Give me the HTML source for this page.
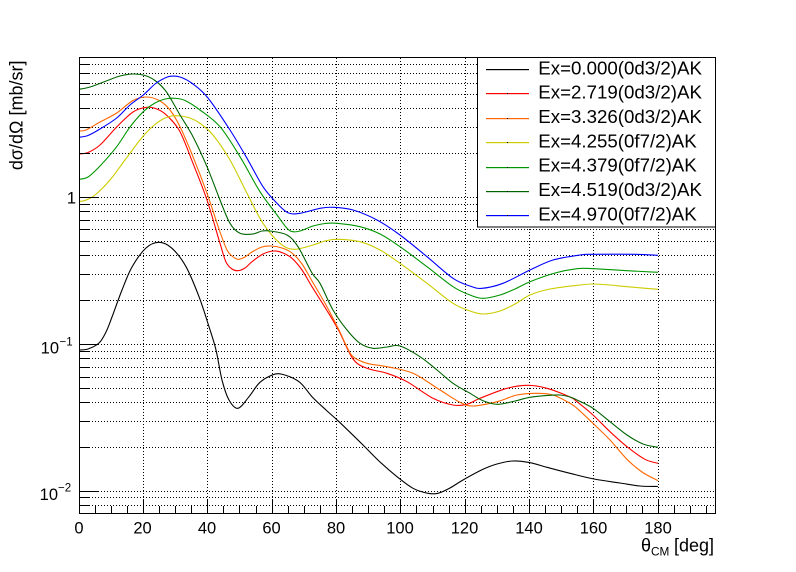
<!DOCTYPE html>
<html>
<head>
<meta charset="utf-8">
<style>
  html, body { margin: 0; padding: 0; background: #ffffff; }
  body { width: 796px; height: 572px; overflow: hidden; }
  svg { display: block; }
  text { font-family: "Liberation Sans", Arial, sans-serif; fill: #000; }
</style>
</head>
<body>
<svg id="c" width="796" height="572" viewBox="0 0 796 572" xmlns="http://www.w3.org/2000/svg">
  <rect x="0" y="0" width="796" height="572" fill="#ffffff"/>

  <!-- grid -->
  <g stroke="#000" stroke-width="1" stroke-dasharray="1,2" shape-rendering="crispEdges" fill="none">
    <path d="M143.5,58 V514 M207.5,58 V514 M272.5,58 V514 M336.5,58 V514 M400.5,58 V514 M465.5,58 V514 M529.5,58 V514 M593.5,58 V514 M658.5,58 V514"/>
    <path d="M80,64.5 H716 M80,73.5 H716 M80,83.5 H716 M80,94.5 H716 M80,108.5 H716 M80,127.5 H716 M80,153.5 H716 M80,197.5 H716 M80,204.5 H716 M80,211.5 H716 M80,220.5 H716 M80,229.5 H716 M80,241.5 H716 M80,255.5 H716 M80,274.5 H716 M80,300.5 H716 M80,344.5 H716 M80,351.5 H716 M80,358.5 H716 M80,367.5 H716 M80,377.5 H716 M80,388.5 H716 M80,402.5 H716 M80,421.5 H716 M80,447.5 H716 M80,491.5 H716 M80,497.5 H716 M80,505.5 H716"/>
  </g>

  <!-- series -->
  <g fill="none" stroke-width="1.1" stroke-linejoin="round">
    <polyline class="s" stroke="#000000" points="79,350 88,349 99,343 106,332 112,317 122,290 132,267 146,248 159,242.3 172,248.3 186,266.7 199,296.7 209,326.7 216,350 222,380 229,400 238,408.3 249,396.7 259,383.3 270,376 281,374 299,381.7 312,396.7 326,410 339,421.7 363,445 380,462 397,476.7 413,488.3 428,493.3 438,493.3 450,488 463,480 483,469.3 497,464 513,461 530,462.7 547,467.3 570,473.3 594,479 620,483 640,486 658,486.5"/>
    <polyline class="s" stroke="#ff0000" points="79,154 88,152.5 100,145 116.7,127 133,112 146.7,107.3 158,109.5 168,116.5 180,131.7 193,163.3 207,200 220,243.3 226,262 232,269 238,270.7 245,268 252,261.7 263,254 274,251 283,253 292,258.3 302,270 312,286.7 326,309 339,331 353,359 367,368.3 387,373.3 407,381.7 433,398.3 453,405 467,404.3 480,398.3 507,388.3 528,385.3 547,388.3 570,397 577,401.7 593,415 610,431.7 627,446.7 645,459.3 658,463.3"/>
    <polyline class="s" stroke="#ff6600" points="79,131 86,130 100,122 116.7,113 133,100.5 146.7,97 160,101 170,110 180,126.7 193,156.7 207,193.3 220,232 227,250 232,256 238,259.3 245,257 252,252 262,247 271,246 282,248 292,253 302,264 312,281 326,305 339,330 346,345 353,356.7 367,363.3 387,366.7 413,373.3 440,390 460,402.3 473,406 497,401.7 517,395 537,393.3 553,395 570,403.3 577,408.3 593,423.3 610,440 627,459.3 642,472 658,480.7"/>
    <polyline class="s" stroke="#cccc00" points="79,201.3 85,200.5 95,195 110,180 125,160 140,140 152,127 163,119 172,116 180,116 190,118 200,123.3 213,135 230,160 247,193.3 263,223.3 280,243.3 294,249.3 313,245 325,241 337,239.3 360,241.7 380,250 400,263.3 427,283.3 453,303.3 470,311 483,314 500,311 515,304 530,295 550,289 580,285 593,284 610,285 627,286.7 658,289.3"/>
    <polyline class="s" stroke="#009600" points="79,179.3 88,177 100,166 116.7,146.7 130,127 143.3,111.7 155,103 165,99 175,98.3 185,100.5 200,110 220,126.7 240,156.7 260,191.7 277,215 287,228.3 293,231.7 300,231 313,226 325,223.5 337,223.3 360,226.7 380,234 400,246.7 427,266.7 453,286.7 470,295 483,298.3 500,295 515,289 530,281.7 555,273 577,268.7 593,268.7 627,270.7 658,272.3"/>
    <polyline class="s" stroke="#006400" points="79,89.3 90,87 105,81.5 120,76 133.3,74 145,75.5 155,80.5 165,90 172,101 180,115 193,136.7 207,166.7 220,200 230,223.3 240,233.3 253,234 262,231 270,231 287,235 298,246.7 312,273 320,283.3 333,310 347,330 360,343.3 373,348.3 387,347 400,346 420,356.7 437,370 453,383.3 470,393.3 483,400.7 498,404.3 515,401 530,397.3 550,395.3 560,395 570,397 577,400 593,408.3 610,421.7 627,435 643,444 658,447.3"/>
    <polyline class="s" stroke="#0000ff" points="79,137.3 88,135.5 100,129 116.7,118 130,105 143.3,95 155,84 163,79 170,76.3 180,77 193,84 208,98 230,130 247,158.3 263,186.7 277,203.3 288,212.7 300,213.3 320,208.3 333,207.3 353,210 377,220 400,235 427,256.7 453,278.3 470,286 482,288.3 503,283.3 530,270 553,260 580,255 593,254.3 635,254.3 658,255.3"/>
  </g>

  <!-- frame and ticks -->
  <g stroke="#000" stroke-width="1" fill="none" shape-rendering="crispEdges">
    <rect x="79.5" y="57.5" width="636" height="456"/>
    <path d="M80,197.5 H99 M80,344.5 H99 M80,491.5 H99"/>
    <path d="M80,64.5 H90 M80,73.5 H90 M80,83.5 H90 M80,94.5 H90 M80,108.5 H90 M80,127.5 H90 M80,153.5 H90 M80,204.5 H90 M80,211.5 H90 M80,220.5 H90 M80,229.5 H90 M80,241.5 H90 M80,255.5 H90 M80,274.5 H90 M80,300.5 H90 M80,351.5 H90 M80,358.5 H90 M80,367.5 H90 M80,377.5 H90 M80,388.5 H90 M80,402.5 H90 M80,421.5 H90 M80,447.5 H90 M80,497.5 H90 M80,505.5 H90"/>
    <path d="M143.5,513 V500 M207.5,513 V500 M272.5,513 V500 M336.5,513 V500 M400.5,513 V500 M465.5,513 V500 M529.5,513 V500 M593.5,513 V500 M658.5,513 V500"/>
    <path d="M95.5,513 V506 M111.5,513 V506 M127.5,513 V506 M159.5,513 V506 M175.5,513 V506 M191.5,513 V506 M223.5,513 V506 M239.5,513 V506 M256.5,513 V506 M288.5,513 V506 M304.5,513 V506 M320.5,513 V506 M352.5,513 V506 M368.5,513 V506 M384.5,513 V506 M416.5,513 V506 M433.5,513 V506 M449.5,513 V506 M481.5,513 V506 M497.5,513 V506 M513.5,513 V506 M545.5,513 V506 M561.5,513 V506 M577.5,513 V506 M610.5,513 V506 M626.5,513 V506 M642.5,513 V506 M674.5,513 V506 M690.5,513 V506 M706.5,513 V506"/>
  </g>

  <!-- x tick labels -->
  <g font-size="16.5" text-anchor="middle">
    <text x="79" y="533.5">0</text>
    <text x="142.5" y="533.5">20</text>
    <text x="207" y="533.5">40</text>
    <text x="271.5" y="533.5">60</text>
    <text x="336" y="533.5">80</text>
    <text x="400" y="533.5">100</text>
    <text x="464.5" y="533.5">120</text>
    <text x="529" y="533.5">140</text>
    <text x="593.5" y="533.5">160</text>
    <text x="658" y="533.5">180</text>
  </g>

  <!-- y tick labels -->
  <g font-size="16.5">
    <text x="76" y="203.5" text-anchor="end">1</text>
    <text x="59" y="353.3" text-anchor="end">10</text>
    <text x="59.5" y="345.3" font-size="11.5">−1</text>
    <text x="58" y="500" text-anchor="end">10</text>
    <text x="58" y="491.5" font-size="11.5">−2</text>
  </g>

  <!-- axis titles -->
  <text transform="translate(22.6,60.5) rotate(-90)" text-anchor="end" font-size="18">dσ/dΩ [mb/sr]</text>
  <text x="641" y="551.5" font-size="18">θ</text>
  <text x="651" y="555.3" font-size="11.8">CM</text>
  <text x="714" y="551.5" font-size="18" text-anchor="end">[deg]</text>

  <!-- legend -->
  <rect x="477.5" y="57.5" width="238" height="169.5" fill="#ffffff" stroke="#000" stroke-width="1" shape-rendering="crispEdges"/>
  <rect x="486" y="69" width="43" height="1.2" fill="#000000"/>
  <rect x="486" y="93" width="43" height="1.2" fill="#ff0000"/>
  <rect x="486" y="118" width="43" height="1.2" fill="#ff6600"/>
  <rect x="486" y="142" width="43" height="1.2" fill="#cccc00"/>
  <rect x="486" y="167" width="43" height="1.2" fill="#009600"/>
  <rect x="486" y="191" width="43" height="1.2" fill="#006400"/>
  <rect x="486" y="215" width="43" height="1.2" fill="#0000ff"/>
  <g fill="#000">
    <rect x="507" y="93" width="1" height="1"/>
    <rect x="507" y="118" width="1" height="1"/>
    <rect x="507" y="142" width="1" height="1"/>
    <rect x="507" y="167" width="1" height="1"/>
    <rect x="507" y="191" width="1" height="1"/>
    <rect x="507" y="215" width="1" height="1"/>
  </g>
  <g font-size="18.7">
    <text x="538.3" y="74.4">Ex=0.000(0d3/2)AK</text>
    <text x="538.3" y="98.6">Ex=2.719(0d3/2)AK</text>
    <text x="538.3" y="123">Ex=3.326(0d3/2)AK</text>
    <text x="538.3" y="147.3">Ex=4.255(0f7/2)AK</text>
    <text x="538.3" y="171.7">Ex=4.379(0f7/2)AK</text>
    <text x="538.3" y="196">Ex=4.519(0d3/2)AK</text>
    <text x="538.3" y="220.3">Ex=4.970(0f7/2)AK</text>
  </g>
</svg>
<script>
(function(){
  var NS = "http://www.w3.org/2000/svg";
  var pls = document.querySelectorAll("polyline.s");
  for (var k = 0; k < pls.length; k++) {
    var pl = pls[k];
    var raw = pl.getAttribute("points").trim().split(/\s+/);
    var p = raw.map(function(s){ var a = s.split(","); return [parseFloat(a[0]), parseFloat(a[1])]; });
    var d = "M" + p[0][0] + "," + p[0][1];
    for (var i = 0; i < p.length - 1; i++) {
      var p0 = p[i-1] || p[i], p1 = p[i], p2 = p[i+1], p3 = p[i+2] || p[i+1];
      var c1x = p1[0] + (p2[0]-p0[0])/6, c1y = p1[1] + (p2[1]-p0[1])/6;
      var c2x = p2[0] - (p3[0]-p1[0])/6, c2y = p2[1] - (p3[1]-p1[1])/6;
      d += " C" + c1x.toFixed(2) + "," + c1y.toFixed(2) + " " + c2x.toFixed(2) + "," + c2y.toFixed(2) + " " + p2[0] + "," + p2[1];
    }
    var path = document.createElementNS(NS, "path");
    path.setAttribute("d", d);
    path.setAttribute("stroke", pl.getAttribute("stroke"));
    path.setAttribute("fill", "none");
    pl.parentNode.replaceChild(path, pl);
  }
})();
</script>
</body>
</html>
